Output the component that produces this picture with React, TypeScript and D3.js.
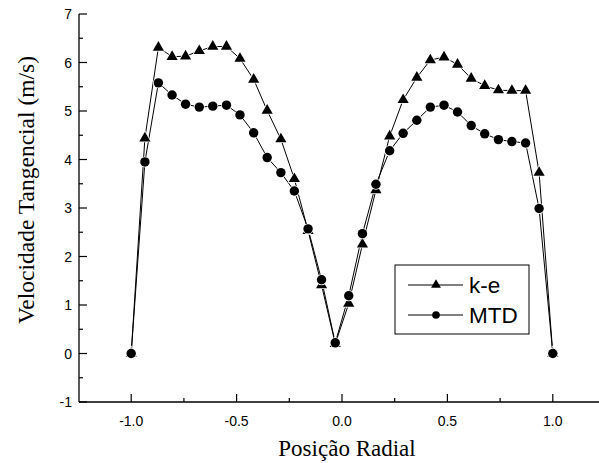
import React from "react";
import * as d3 from "d3";

const positions = [-1.0, -0.935, -0.871, -0.806, -0.742, -0.677, -0.613, -0.548, -0.484, -0.419, -0.355, -0.29, -0.226, -0.161, -0.097, -0.032, 0.032, 0.097, 0.161, 0.226, 0.29, 0.355, 0.419, 0.484, 0.548, 0.613, 0.677, 0.742, 0.806, 0.871, 0.935, 1.0];
const keValues = [0, 4.44, 6.31, 6.12, 6.13, 6.24, 6.33, 6.33, 6.08, 5.65, 5.01, 4.42, 3.6, 2.53, 1.41, 0.2, 1.03, 2.25, 3.37, 4.48, 5.23, 5.69, 6.05, 6.11, 5.96, 5.67, 5.52, 5.43, 5.42, 5.42, 3.73, 0];
const mtdValues = [0, 3.95, 5.58, 5.33, 5.14, 5.08, 5.1, 5.12, 4.92, 4.55, 4.04, 3.73, 3.35, 2.57, 1.52, 0.22, 1.19, 2.47, 3.49, 4.18, 4.54, 4.81, 5.08, 5.12, 4.98, 4.7, 4.53, 4.41, 4.37, 4.34, 2.99, 0];
const seriesNames = ["k-e", "MTD"];
const xMajorTicks = [-1.0, -0.5, 0.0, 0.5, 1.0];
const xMinorTicks = [-0.75, -0.25, 0.25, 0.75];
const xTickLabels = ["-1.0", "-0.5", "0.0", "0.5", "1.0"];
const yMajorTicks = [-1, 0, 1, 2, 3, 4, 5, 6, 7];
const yMinorTicks = [-0.5, 0.5, 1.5, 2.5, 3.5, 4.5, 5.5, 6.5];
const yTickLabels = ["-1", "0", "1", "2", "3", "4", "5", "6", "7"];
const xTitle = "Posição Radial";
const yTitle = "Velocidade Tangencial (m/s)";

const W = 599;
const H = 463;

export default function App() {
  const x = d3.scaleLinear().domain([-1.25, 1.25]).range([78.5, 605.5]);
  const y = d3.scaleLinear().domain([-1, 7]).range([402, 14]);
  const axisX0 = 79;
  const axisY0 = 402;

  const line = d3
    .line<[number, number]>()
    .x((d) => x(d[0]))
    .y((d) => y(d[1]));

  const keData: [number, number][] = positions.map((p, i) => [p, keValues[i]]);
  const mtdData: [number, number][] = positions.map((p, i) => [p, mtdValues[i]]);

  const tri = d3.symbol().type(d3.symbolTriangle).size(54)() as string;
  const circ = d3.symbol().type(d3.symbolCircle).size(70)() as string;
  const triSmall = d3.symbol().type(d3.symbolTriangle).size(42)() as string;
  const circSmall = d3.symbol().type(d3.symbolCircle).size(46)() as string;

  const tickFont = "Arial, 'Liberation Sans', sans-serif";
  const serif = "'Times New Roman', 'Liberation Serif', serif";

  const legX = 395;
  const legY = 265;
  const legW = 134;
  const legH = 69;

  return (
    <svg
      width={W}
      height={H}
      style={{ position: "absolute", left: 0, top: 0, background: "#fff" }}
    >
      <rect x={0} y={0} width={W} height={H} fill="#fff" />
      {/* axes */}
      <line x1={axisX0} y1={axisY0} x2={W} y2={axisY0} stroke="#000" strokeWidth={1.3} />
      <line x1={axisX0} y1={y(7)} x2={axisX0} y2={axisY0} stroke="#000" strokeWidth={1.3} />
      {xMajorTicks.map((t, i) => (
        <g key={"xm" + i}>
          <line x1={x(t)} x2={x(t)} y1={axisY0} y2={axisY0 - 8} stroke="#000" strokeWidth={1.2} />
          <text x={x(t)} y={426} textAnchor="middle" fontFamily={tickFont} fontSize={14} fill="#000">
            {xTickLabels[i]}
          </text>
        </g>
      ))}
      {xMinorTicks.map((t, i) => (
        <line key={"xn" + i} x1={x(t)} x2={x(t)} y1={axisY0} y2={axisY0 - 4} stroke="#000" strokeWidth={1.2} />
      ))}
      {yMajorTicks.map((t, i) => (
        <g key={"ym" + i}>
          <line x1={axisX0} x2={axisX0 + 8} y1={y(t)} y2={y(t)} stroke="#000" strokeWidth={1.2} />
          <text x={72} y={y(t) + 5} textAnchor="end" fontFamily={tickFont} fontSize={14} fill="#000">
            {yTickLabels[i]}
          </text>
        </g>
      ))}
      {yMinorTicks.map((t, i) => (
        <line key={"yn" + i} x1={axisX0} x2={axisX0 + 4} y1={y(t)} y2={y(t)} stroke="#000" strokeWidth={1.2} />
      ))}
      {/* titles */}
      <text x={(x(-1) + x(1)) / 2 + 5} y={456} textAnchor="middle" fontFamily={serif} fontSize={23} fill="#000">
        {xTitle}
      </text>
      <text
        transform={`translate(34, 190) rotate(-90)`}
        textAnchor="middle"
        fontFamily={serif}
        fontSize={23.5}
        fill="#000"
      >
        {yTitle}
      </text>
      {/* series lines */}
      <path d={line(keData) as string} fill="none" stroke="#000" strokeWidth={1} />
      <path d={line(mtdData) as string} fill="none" stroke="#000" strokeWidth={1} />
      {/* markers */}
      {keData.map((d, i) => (
        <path
          key={"k" + i}
          d={tri}
          transform={`translate(${x(d[0])},${y(d[1])})`}
          fill="#000"
          stroke="#fff"
          strokeWidth={1.5}
          paintOrder="stroke"
        />
      ))}
      {mtdData.map((d, i) => (
        <path
          key={"m" + i}
          d={circ}
          transform={`translate(${x(d[0])},${y(d[1])})`}
          fill="#000"
          stroke="#fff"
          strokeWidth={1.5}
          paintOrder="stroke"
        />
      ))}
      {/* legend */}
      <rect x={legX} y={legY} width={legW} height={legH} fill="#fff" stroke="#000" strokeWidth={1} />
      {seriesNames.map((name, i) => {
        const cy = legY + 20 + i * 30;
        return (
          <g key={"lg" + i}>
            <line x1={legX + 13} x2={legX + 68} y1={cy} y2={cy} stroke="#000" strokeWidth={1} />
            <path d={i === 0 ? triSmall : circSmall} transform={`translate(${legX + 41},${cy})`} fill="#000" />
            <text x={legX + 74} y={cy + 8} fontFamily={tickFont} fontSize={22.5} fill="#000">
              {name}
            </text>
          </g>
        );
      })}
    </svg>
  );
}
